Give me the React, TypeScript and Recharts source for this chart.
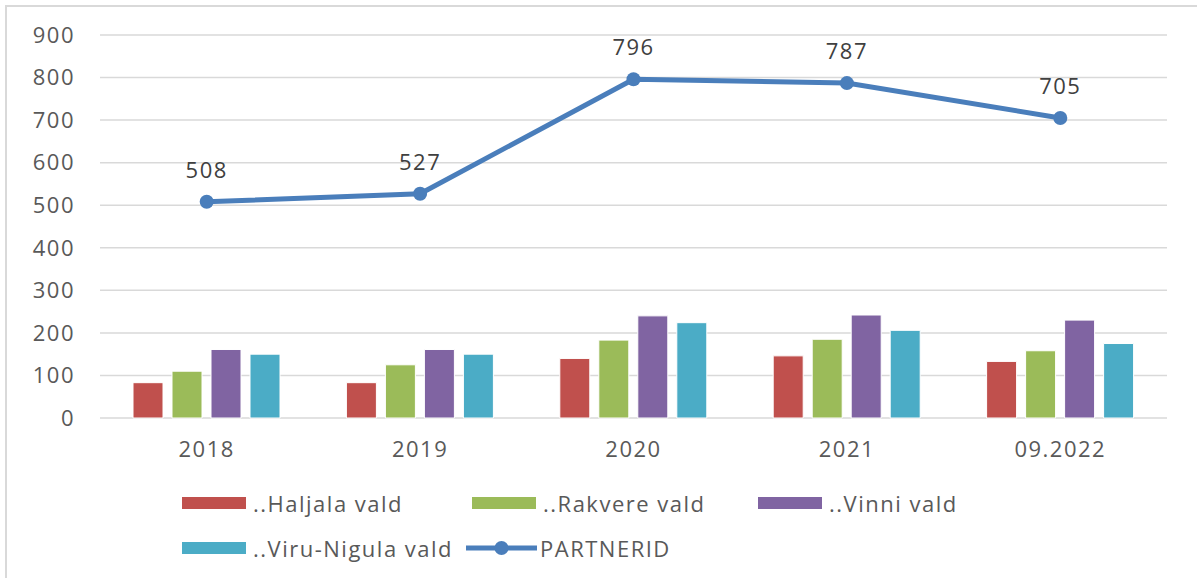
import {
  ComposedChart,
  Bar,
  Line,
  XAxis,
  YAxis,
  CartesianGrid,
  Legend,
  LabelList,
} from "recharts";

const years = ["2018", "2019", "2020", "2021", "09.2022"];
const haljala = [83, 83, 140, 146, 133];
const rakvere = [110, 125, 183, 185, 158];
const vinni = [161, 161, 240, 242, 230];
const viruNigula = [150, 150, 224, 206, 175];
const partnerid = [508, 527, 796, 787, 705];
const yTicks = [0, 100, 200, 300, 400, 500, 600, 700, 800, 900];

const chartData = years.map((y, i) => ({
  year: y,
  haljala: haljala[i],
  rakvere: rakvere[i],
  vinni: vinni[i],
  viruNigula: viruNigula[i],
  partnerid: partnerid[i],
}));

const FONT = "'Open Sans', sans-serif";
const TEXT = "#595959";
const SPACING = 1.5;

// where excel put each legend entry
const legendSpots = [
  { left: 182, top: 0 },
  { left: 472, top: 0 },
  { left: 758, top: 0 },
  { left: 182, top: 45 },
  { left: 466, top: 45 },
];

function renderLegend(props: any) {
  const payload = props.payload || [];
  return (
    <div style={{ position: "relative", width: 1197, height: 80 }}>
      {payload.map((p: any, i: number) => {
        const spot = legendSpots[i] || { left: 0, top: 0 };
        const isLine = p.type === "line";
        return (
          <div
            key={p.value}
            style={{
              position: "absolute",
              left: spot.left,
              top: spot.top,
              display: "flex",
              alignItems: "center",
              fontFamily: FONT,
              fontSize: 22,
              letterSpacing: SPACING,
              color: TEXT,
              whiteSpace: "nowrap",
              height: 36,
            }}
          >
            {isLine ? (
              <svg width={71} height={16} style={{ marginRight: 3 }}>
                <line x1={0} y1={8} x2={71} y2={8} stroke={p.color} strokeWidth={5} />
                <circle cx={35.5} cy={8} r={7} fill={p.color} />
              </svg>
            ) : (
              <div
                style={{
                  width: 64,
                  height: 12,
                  background: p.color,
                  marginRight: 7,
                }}
              />
            )}
            {p.value}
          </div>
        );
      })}
    </div>
  );
}

const tickStyle = { fill: TEXT, fontSize: 22, fontFamily: FONT, letterSpacing: SPACING };

export default function App() {
  return (
    <div
      style={{
        position: "absolute",
        left: 0,
        top: 0,
        width: 1197,
        height: 578,
        background: "#fff",
        overflow: "hidden",
      }}
    >
      <div
        style={{
          position: "absolute",
          left: 5,
          top: 5,
          width: 1200,
          height: 600,
          borderLeft: "2px solid #d9d9d9",
          borderTop: "2px solid #d9d9d9",
        }}
      />
      <ComposedChart
        width={1197}
        height={578}
        data={chartData}
        margin={{ top: 35, right: 30, left: 40, bottom: 40 }}
        barSize={30}
        barGap={9}
      >
        <CartesianGrid vertical={false} stroke="#d9d9d9" strokeWidth={1.5} />
        <XAxis
          dataKey="year"
          axisLine={false}
          tickLine={false}
          tickSize={0}
          tickMargin={23}
          height={40}
          tick={tickStyle}
        />
        <YAxis
          domain={[0, 900]}
          ticks={yTicks}
          axisLine={false}
          tickLine={false}
          tickSize={0}
          tickMargin={25}
          width={60}
          tick={tickStyle}
        />
        <Bar dataKey="haljala" name="..Haljala vald" fill="#c0504d" stroke="#fff" strokeWidth={1} isAnimationActive={false} />
        <Bar dataKey="rakvere" name="..Rakvere vald" fill="#9bbb59" stroke="#fff" strokeWidth={1} isAnimationActive={false} />
        <Bar dataKey="vinni" name="..Vinni vald" fill="#8064a2" stroke="#fff" strokeWidth={1} isAnimationActive={false} />
        <Bar dataKey="viruNigula" name="..Viru-Nigula vald" fill="#4bacc6" stroke="#fff" strokeWidth={1} isAnimationActive={false} />
        <Line
          dataKey="partnerid"
          name="PARTNERID"
          type="linear"
          stroke="#4a7ebb"
          strokeWidth={5}
          dot={{ r: 7, fill: "#4a7ebb", stroke: "#4a7ebb", strokeWidth: 0 }}
          legendType="line"
          isAnimationActive={false}
        >
          <LabelList
            dataKey="partnerid"
            position="top"
            offset={24}
            fill="#404040"
            fontSize={22}
            fontFamily={FONT}
            style={{ letterSpacing: SPACING }}
          />
        </Line>
        <Legend
          content={renderLegend}
          wrapperStyle={{ position: "absolute", left: 0, top: 485, width: 1197 }}
        />
      </ComposedChart>
    </div>
  );
}
